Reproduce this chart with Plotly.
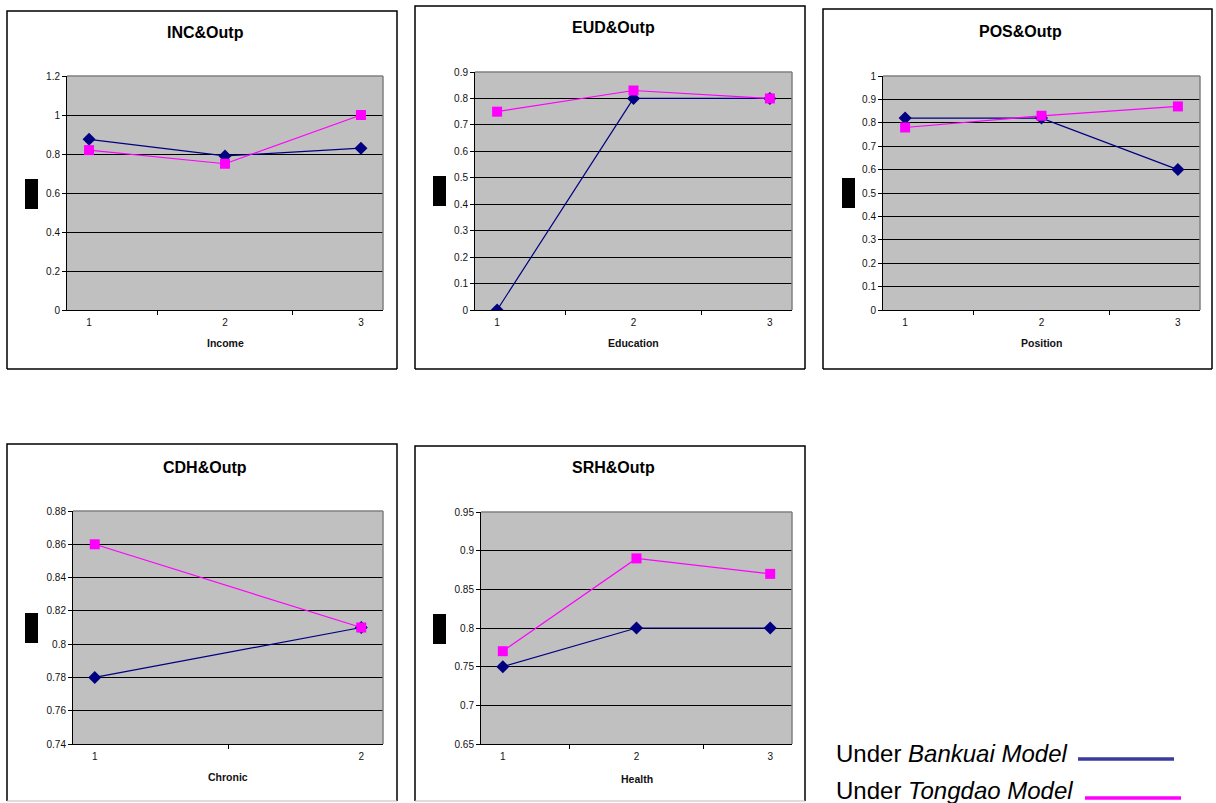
import plotly.graph_objects as go

# ---------------- data ----------------
titles = ["INC&Outp", "EUD&Outp", "POS&Outp", "CDH&Outp", "SRH&Outp"]
x_titles = ["Income", "Education", "Position", "Chronic", "Health"]

inc_cats = ["1", "2", "3"]
inc_bankuai = [0.875, 0.79, 0.83]
inc_tongdao = [0.82, 0.75, 1.0]

eud_cats = ["1", "2", "3"]
eud_bankuai = [0.0, 0.80, 0.80]
eud_tongdao = [0.75, 0.83, 0.80]

pos_cats = ["1", "2", "3"]
pos_bankuai = [0.82, 0.82, 0.60]
pos_tongdao = [0.78, 0.83, 0.87]

cdh_cats = ["1", "2"]
cdh_bankuai = [0.78, 0.81]
cdh_tongdao = [0.86, 0.81]

srh_cats = ["1", "2", "3"]
srh_bankuai = [0.75, 0.80, 0.80]
srh_tongdao = [0.77, 0.89, 0.87]

inc_ticks = [0, 0.2, 0.4, 0.6, 0.8, 1.0, 1.2]
inc_ticktext = ["0", "0.2", "0.4", "0.6", "0.8", "1", "1.2"]
eud_ticks = [0, 0.1, 0.2, 0.3, 0.4, 0.5, 0.6, 0.7, 0.8, 0.9]
eud_ticktext = ["0", "0.1", "0.2", "0.3", "0.4", "0.5", "0.6", "0.7", "0.8", "0.9"]
pos_ticks = [0, 0.1, 0.2, 0.3, 0.4, 0.5, 0.6, 0.7, 0.8, 0.9, 1.0]
pos_ticktext = ["0", "0.1", "0.2", "0.3", "0.4", "0.5", "0.6", "0.7", "0.8", "0.9", "1"]
cdh_ticks = [0.74, 0.76, 0.78, 0.80, 0.82, 0.84, 0.86, 0.88]
cdh_ticktext = ["0.74", "0.76", "0.78", "0.8", "0.82", "0.84", "0.86", "0.88"]
srh_ticks = [0.65, 0.70, 0.75, 0.80, 0.85, 0.90, 0.95]
srh_ticktext = ["0.65", "0.7", "0.75", "0.8", "0.85", "0.9", "0.95"]

legend_labels = ["Under <i>Bankuai Model</i>", "Under <i>Tongdao Model</i>"]

# ---------------- layout geometry (pixels) ----------------
W, H = 1216, 803
def X(px): return px / W
def Y(py): return 1 - py / H

panels = [
    dict(cats=inc_cats, b=inc_bankuai, t=inc_tongdao, ticks=inc_ticks, tt=inc_ticktext,
         plot=(67, 383, 76, 310), box=(7, 397, 11, 369), blk=(25, 38, 179, 209), ty=32, ay=343),
    dict(cats=eud_cats, b=eud_bankuai, t=eud_tongdao, ticks=eud_ticks, tt=eud_ticktext,
         plot=(475, 792, 72, 310), box=(415, 805, 6, 369), blk=(433, 446, 176, 206), ty=27, ay=343),
    dict(cats=pos_cats, b=pos_bankuai, t=pos_tongdao, ticks=pos_ticks, tt=pos_ticktext,
         plot=(883, 1200, 76, 310), box=(823, 1212, 9, 369), blk=(842, 855, 178, 208), ty=31, ay=343),
    dict(cats=cdh_cats, b=cdh_bankuai, t=cdh_tongdao, ticks=cdh_ticks, tt=cdh_ticktext,
         plot=(73, 383, 511, 744), box=(7, 397, 444, 801), blk=(25, 38, 613, 643), ty=467, ay=777),
    dict(cats=srh_cats, b=srh_bankuai, t=srh_tongdao, ticks=srh_ticks, tt=srh_ticktext,
         plot=(481, 792, 512, 744), box=(415, 805, 446, 801), blk=(433, 446, 614, 644), ty=467, ay=779),
]

NAVY = "#000080"
MAGENTA = "#FF00FF"
FONT = "Arial, Liberation Sans, sans-serif"

fig = go.Figure()
shapes = []
annotations = []
layout_axes = {}

for i, p in enumerate(panels):
    n = "" if i == 0 else str(i + 1)
    xa, ya = "x" + n, "y" + n
    x0, x1, yt, yb = p["plot"]

    fig.add_trace(go.Scatter(x=p["cats"], y=p["b"], xaxis=xa, yaxis=ya, mode="lines+markers",
                             line=dict(color=NAVY, width=1.2),
                             marker=dict(symbol="diamond", size=10, color=NAVY),
                             name="Bankuai", showlegend=False))
    fig.add_trace(go.Scatter(x=p["cats"], y=p["t"], xaxis=xa, yaxis=ya, mode="lines+markers",
                             line=dict(color=MAGENTA, width=1.2),
                             marker=dict(symbol="square", size=10, color=MAGENTA),
                             name="Tongdao", showlegend=False))

    layout_axes["xaxis" + n] = dict(
        domain=[X(x0), X(x1)], anchor=ya, type="category", automargin=False,
        showline=True, linecolor="black", linewidth=1, ticks="outside", tickson="boundaries",
        ticklen=4, tickcolor="black", showgrid=False, zeroline=False, ticklabelstandoff=3,
        tickfont=dict(family=FONT, size=10, color="#111"), fixedrange=True)
    layout_axes["yaxis" + n] = dict(
        domain=[Y(yb), Y(yt)], anchor=xa, range=[p["ticks"][0], p["ticks"][-1]], automargin=False,
        tickvals=p["ticks"], ticktext=p["tt"],
        showline=True, linecolor="black", linewidth=1, ticks="outside", ticklen=4,
        tickcolor="black", showgrid=True, gridcolor="black", gridwidth=1, zeroline=False,
        tickfont=dict(family=FONT, size=10, color="#111"), fixedrange=True)

    shapes.append(dict(type="line", xref="paper", yref="paper", x0=X(x0), x1=X(x1), y0=Y(yt), y1=Y(yt),
                       line=dict(color="#808080", width=1.5), layer="above"))
    shapes.append(dict(type="line", xref="paper", yref="paper", x0=X(x1), x1=X(x1), y0=Y(yt), y1=Y(yb),
                       line=dict(color="#808080", width=1.5), layer="above"))
    bx0, bx1, by0, by1 = p["box"]
    shapes.append(dict(type="path", xref="paper", yref="paper",
                       path=f"M {X(bx0)},{Y(by1)} L {X(bx0)},{Y(by0)} L {X(bx1)},{Y(by0)} L {X(bx1)},{Y(by1)}",
                       line=dict(color="black", width=1.5)))
    if by1 < 790:
        shapes.append(dict(type="line", xref="paper", yref="paper", x0=X(bx0), x1=X(bx1), y0=Y(by1), y1=Y(by1),
                           line=dict(color="black", width=1.5)))
    else:
        shapes.append(dict(type="line", xref="paper", yref="paper", x0=X(bx0), x1=X(bx1), y0=Y(by1), y1=Y(by1),
                           line=dict(color="#BBBBBB", width=1)))
    kx0, kx1, ky0, ky1 = p["blk"]
    shapes.append(dict(type="rect", xref="paper", yref="paper", x0=X(kx0), x1=X(kx1), y0=Y(ky1), y1=Y(ky0),
                       line=dict(width=0), fillcolor="black"))
    annotations.append(dict(text="<b>" + titles[i] + "</b>", xref="paper", yref="paper",
                            x=X((bx0 + bx1) / 2 + 3), y=Y(p["ty"]), xanchor="center", yanchor="middle",
                            showarrow=False, font=dict(family=FONT, size=16, color="black")))
    annotations.append(dict(text="<b>" + x_titles[i] + "</b>", xref="paper", yref="paper",
                            x=X((x0 + x1) / 2), y=Y(p["ay"]), xanchor="center", yanchor="middle",
                            showarrow=False, font=dict(family=FONT, size=10.5, color="#111")))

leg = [(legend_labels[0], 753, 1078, 1174, 759, "#3B3B9E"),
       (legend_labels[1], 790, 1085, 1181, 798, MAGENTA)]
for txt, ty, lx0, lx1, ly, col in leg:
    annotations.append(dict(text=txt, xref="paper", yref="paper", x=X(834), y=Y(ty),
                            xanchor="left", yanchor="middle", showarrow=False,
                            font=dict(family=FONT, size=24, color="black")))
    shapes.append(dict(type="line", xref="paper", yref="paper", x0=X(lx0), x1=X(lx1), y0=Y(ly), y1=Y(ly),
                       line=dict(color=col, width=3.5)))

fig.update_layout(
    width=W, height=H, margin=dict(l=0, r=0, t=0, b=0, pad=0, autoexpand=False),
    paper_bgcolor="white", plot_bgcolor="#C0C0C0",
    shapes=shapes, annotations=annotations, showlegend=False,
    **layout_axes)

fig.write_html("out.html", config={"displayModeBar": False},
               post_script="document.body.style.margin='0';document.body.style.padding='0';"
                           "document.body.style.overflow='hidden';")
